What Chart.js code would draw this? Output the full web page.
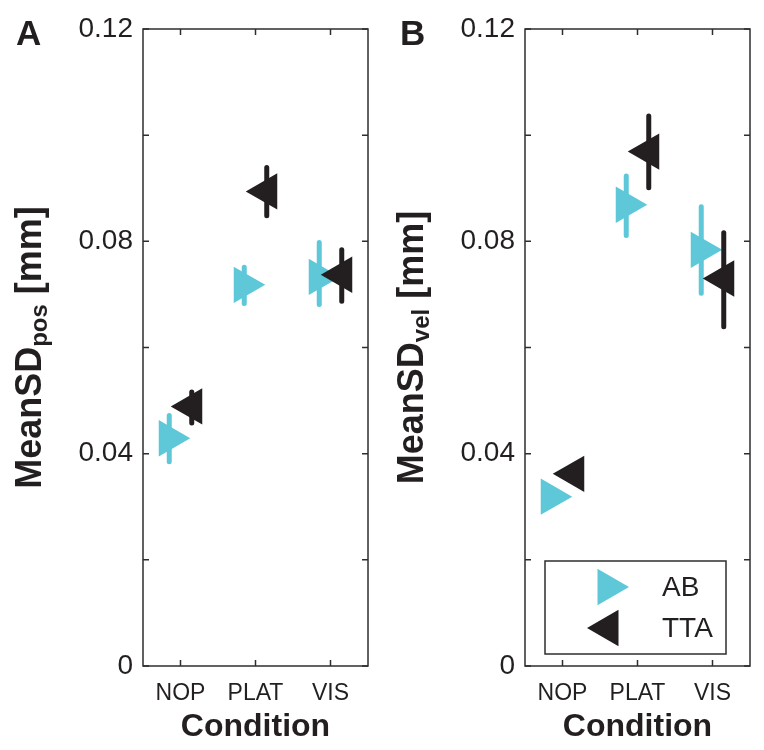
<!DOCTYPE html>
<html>
<head>
<meta charset="utf-8">
<script src="https://cdn.jsdelivr.net/npm/chart.js@4.4.1/dist/chart.umd.min.js"></script>
<style>
  body{margin:0;background:#fff;}
  .panel{position:absolute;top:0;width:382px;height:750px;}
</style>
</head>
<body>
<canvas id="chartA" class="panel" width="382" height="750" style="left:0"></canvas>
<canvas id="chartB" class="panel" width="382" height="750" style="left:382px"></canvas>
<script>
const categories = ['NOP', 'PLAT', 'VIS'];
const yTickValues = [0, 0.02, 0.04, 0.06, 0.08, 0.1, 0.12];
const yTickLabels = ['0', '', '0.04', '', '0.08', '', '0.12'];

// Panel A - MeanSD pos
const abPos    = [0.0429, 0.0718, 0.0733];
const abPosLo  = [0.0385, 0.0683, 0.0681];
const abPosHi  = [0.0472, 0.0751, 0.0798];
const ttaPos   = [0.0489, 0.0894, 0.0737];
const ttaPosLo = [0.0458, 0.0848, 0.0687];
const ttaPosHi = [0.0516, 0.0939, 0.0784];

// Panel B - MeanSD vel
const abVel    = [0.0319, 0.0869, 0.0784];
const abVelLo  = [0.0305, 0.0811, 0.0702];
const abVelHi  = [0.0333, 0.0923, 0.0865];
const ttaVel   = [0.0362, 0.0969, 0.0730];
const ttaVelLo = [0.0348, 0.0901, 0.0639];
const ttaVelHi = [0.0376, 0.1036, 0.0816];

const CYAN = '#5ec8d9';
const DARK = '#231f20';
const AXIS = '#2e2e2e';
const FONT = '"Liberation Sans", Arial, Helvetica, sans-serif';
const OFF = 0.15;

function pts(vals, off) {
  return vals.map((v, i) => ({x: i + 1 + off, y: v}));
}
function errPts(lo, hi, off) {
  const out = [];
  lo.forEach((l, i) => {
    out.push({x: i + 1 + off, y: l}, {x: i + 1 + off, y: hi[i]}, {x: i + 1 + off, y: null});
  });
  return out;
}
function series(label, color, rot, off, vals, lo, hi, order) {
  return [
    {label: label, data: pts(vals, off), showLine: false, pointStyle: 'triangle',
     rotation: rot, pointRotation: rot, pointRadius: 21, pointHoverRadius: 21,
     pointBackgroundColor: color, backgroundColor: color, pointBorderWidth: 0, borderWidth: 0, order: order},
    {label: label + ' err', data: errPts(lo, hi, off), showLine: true, pointRadius: 0, pointHoverRadius: 0,
     borderColor: color, borderWidth: 5, borderCapStyle: 'round', spanGaps: false, order: order + 1}
  ];
}

// box and inward ticks
const boxPlugin = {
  id: 'box',
  afterDraw(chart, args, opts) {
    const {ctx, chartArea: ca, scales} = chart;
    ctx.save();
    ctx.strokeStyle = AXIS;
    ctx.lineWidth = 1.5;
    ctx.strokeRect(ca.left, ca.top, ca.right - ca.left, ca.bottom - ca.top);
    const tl = 6;
    ctx.beginPath();
    yTickValues.forEach(v => {
      const y = scales.y.getPixelForValue(v);
      ctx.moveTo(ca.left, y); ctx.lineTo(ca.left + tl, y);
      ctx.moveTo(ca.right, y); ctx.lineTo(ca.right - tl, y);
    });
    categories.forEach((c, i) => {
      const x = scales.x.getPixelForValue(i + 1);
      ctx.moveTo(x, ca.top); ctx.lineTo(x, ca.top + tl);
      ctx.moveTo(x, ca.bottom); ctx.lineTo(x, ca.bottom - tl);
    });
    ctx.stroke();

    // panel letter
    ctx.fillStyle = DARK;
    ctx.font = 'bold 35px ' + FONT;
    ctx.textBaseline = 'alphabetic';
    ctx.textAlign = 'left';
    ctx.fillText(opts.letter, opts.letterX, 45);

    // y title with subscript
    const cy = (ca.top + ca.bottom) / 2;
    ctx.translate(41, cy);
    ctx.rotate(-Math.PI / 2);
    const big = 'bold 36px ' + FONT, small = 'bold 24px ' + FONT;
    ctx.font = big; const w1 = ctx.measureText('MeanSD').width;
    ctx.font = small; const w2 = ctx.measureText(opts.sub).width;
    ctx.font = big; const w3 = ctx.measureText(' [mm]').width;
    let x = -(w1 + w2 + w3) / 2;
    ctx.font = big; ctx.fillText('MeanSD', x, 0); x += w1;
    ctx.font = small; ctx.fillText(opts.sub, x, 6); x += w2;
    ctx.font = big; ctx.fillText(' [mm]', x, 0);
    ctx.restore();

    if (opts.legend) {
      ctx.save();
      ctx.strokeStyle = AXIS;
      ctx.lineWidth = 1.5;
      ctx.fillStyle = '#fff';
      ctx.fillRect(163, 561, 181, 93);
      ctx.strokeRect(163, 561, 181, 93);
      const items = chart.data.datasets.filter(d => d.pointStyle === 'triangle')
        .sort((a, b) => b.order - a.order);
      items.forEach((d, i) => {
        const yy = 587 + i * 41;
        ctx.fillStyle = d.pointBackgroundColor;
        Chart.helpers.drawPoint(ctx, {pointStyle: 'triangle', rotation: d.rotation, radius: 21, borderWidth: 0}, 226, yy);
        ctx.fillStyle = DARK;
        ctx.font = '28px ' + FONT;
        ctx.textBaseline = 'middle';
        ctx.fillText(d.label, 280, yy + 1);
      });
      ctx.restore();
    }
  }
};

function makeChart(id, ab, abLo, abHi, tta, ttaLo, ttaHi, opts) {
  return new Chart(document.getElementById(id), {
    type: 'line',
    data: {
      datasets: [
        ...series('TTA', DARK, -90, OFF, tta, ttaLo, ttaHi, 0),
        ...series('AB', CYAN, 90, -OFF, ab, abLo, abHi, 2)
      ]
    },
    options: {
      responsive: false,
      animation: false,
      events: [],
      layout: {autoPadding: false, padding: {top: 29, right: 14, left: 0, bottom: 0}},
      plugins: {legend: {display: false}, tooltip: {enabled: false}, box: opts},
      scales: {
        x: {
          type: 'linear', min: 0.5, max: 3.5,
          afterBuildTicks: s => { s.ticks = categories.map((c, i) => ({value: i + 1})); },
          afterFit: s => { s.height = 84; s.paddingLeft = 0; s.paddingRight = 0; },
          grid: {display: false, drawTicks: false},
          border: {display: false},
          ticks: {color: DARK, font: {family: FONT, size: 23}, padding: 14,
                  callback: v => categories[Math.round(v) - 1]},
          title: {display: true, text: 'Condition', color: DARK,
                  font: {family: FONT, size: 32, weight: 'bold'}, padding: {top: 0, bottom: 4}}
        },
        y: {
          type: 'linear', min: 0, max: 0.12,
          afterBuildTicks: s => { s.ticks = yTickValues.map(v => ({value: v})); },
          afterFit: s => { s.width = 143; s.paddingTop = 0; s.paddingBottom = 0; },
          grid: {display: false, drawTicks: false},
          border: {display: false},
          ticks: {color: DARK, font: {family: FONT, size: 28}, padding: 10,
                  callback: (v, i) => yTickLabels[i]}
        }
      }
    },
    plugins: [boxPlugin]
  });
}

makeChart('chartA', abPos, abPosLo, abPosHi, ttaPos, ttaPosLo, ttaPosHi,
  {letter: 'A', letterX: 16, sub: 'pos', legend: false});
makeChart('chartB', abVel, abVelLo, abVelHi, ttaVel, ttaVelLo, ttaVelHi,
  {letter: 'B', letterX: 18, sub: 'vel', legend: true});
</script>
</body>
</html>
